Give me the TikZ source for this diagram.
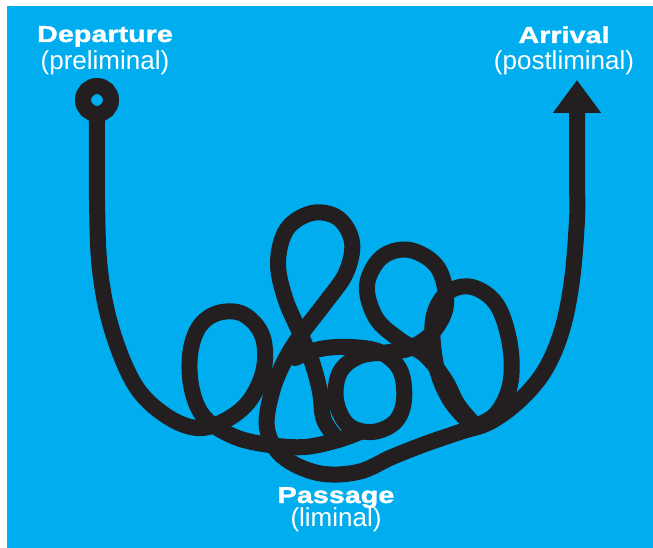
\documentclass[tikz,border=0pt]{standalone}
\usepackage{fontspec}
\newfontfamily\stagefont[FakeStretch=1.25,FakeBold=1.5]{Liberation Sans}
\newfontfamily\phasefont{Liberation Sans}
\usetikzlibrary{arrows.meta}

\definecolor{skyblue}{RGB}{0,174,239}
\definecolor{inkblack}{RGB}{35,31,32}

\tikzset{
  thread/.style={draw=inkblack, line width=16pt, line cap=round, line join=round},
  stage/.style={text=white, font=\stagefont\bfseries\fontsize{23}{23}\selectfont, anchor=base, inner sep=0pt},
  phase/.style={text=white, font=\phasefont\fontsize{26}{26}\selectfont, anchor=base, inner sep=0pt},
}

\begin{document}
\begin{tikzpicture}[x=1pt, y=-1pt]

\useasboundingbox (0,0) rectangle (653,548);
\fill[white] (0,0) rectangle (653,548);
\fill[skyblue] (7,6) rectangle (670,565);

\coordinate (start) at (97,100);
\coordinate (finish) at (577,80);

% way in and first loop
\draw[thread] plot[smooth, tension=0.6] coordinates {(97,114) (97,200) (100,270) (112,330) (135,385) (165,415) (197,428) (226,420) (250,400) (264,368) (262,335) (243,314) (218,313) (199,327) (190,355) (192,390) (205,418) (235,437) (270,445) (305,447) (338,440) (360,432)};

% tall loop, wide arc underneath and way out
\draw[thread, -{Triangle[width=46pt, length=33pt]}] plot[smooth, tension=0.6] coordinates {(338,440) (324,420) (320,392) (312,362) (300,333) (285,298) (278,262) (287,229) (312,213) (338,218) (352,242) (346,273) (325,303) (302,333) (285,360) (272,392) (267,428) (282,456) (318,473) (358,472) (392,457) (425,444) (460,432) (490,422) (520,400) (545,370) (562,330) (572,280) (577,220) (577,190)} -- (finish);

% small loops in the middle
\draw[thread] plot[smooth, tension=0.6] coordinates {(295,358) (320,349) (350,347) (380,352) (400,370) (404,400) (395,422) (372,432) (348,425) (336,400) (340,372) (360,356) (390,352) (410,348) (432,333) (446,305) (438,268) (410,250) (382,257) (367,285) (376,318) (400,340) (425,355) (445,380) (458,405) (475,425)};

% right loop
\draw[thread] plot[smooth, tension=0.6] coordinates {(470,428) (495,415) (510,385) (510,345) (497,305) (472,287) (447,293) (433,320) (436,365) (450,400) (472,425)};

% departure ring
\draw[inkblack, line width=16pt] (start) circle[radius=14pt];

\node[stage] (departure) at (105,42) {Departure};
\node[phase] (preliminal) at (105,69.5) {(preliminal)};
\node[stage] (arrival) at (564,43) {Arrival};
\node[phase] (postliminal) at (564,69.5) {(postliminal)};
\node[stage] (passage) at (336,503) {Passage};
\node[phase] (liminal) at (336,526.5) {(liminal)};

\end{tikzpicture}
\end{document}
